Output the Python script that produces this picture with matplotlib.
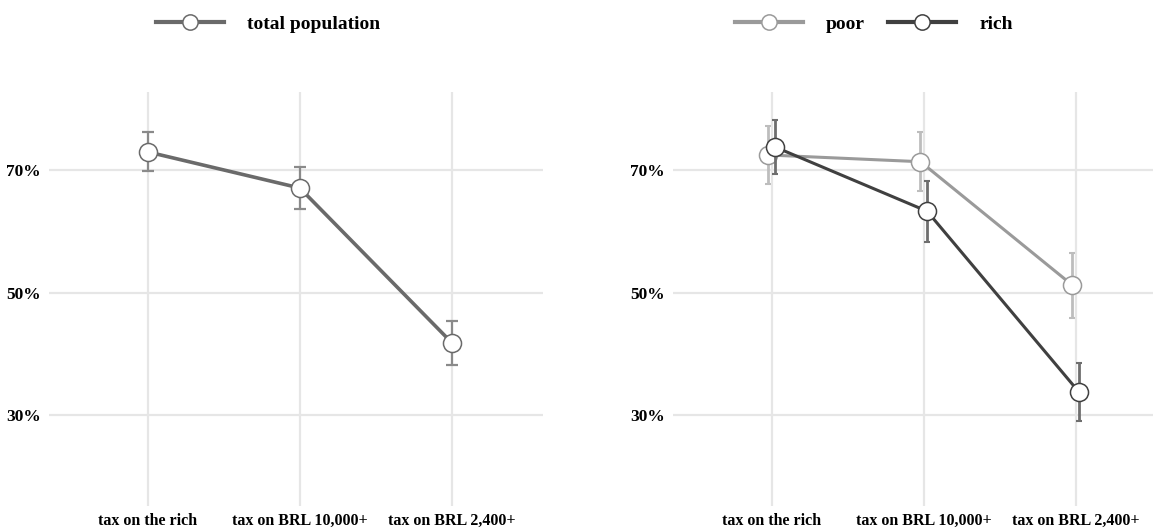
import numpy as np
import matplotlib
matplotlib.use("Agg")
import matplotlib.pyplot as plt
from matplotlib.lines import Line2D

plt.rcParams['font.family'] = ['Liberation Serif', 'DejaVu Serif']
plt.rcParams['font.weight'] = 'bold'

categories = ['tax on the rich', 'tax on BRL 10,000+', 'tax on BRL 2,400+']

# support in %, with half-width of the error bars
total = [73.0, 67.1, 41.8]
total_err = [3.2, 3.4, 3.6]

poor = [72.5, 71.4, 51.2]
poor_err = [4.7, 4.8, 5.3]
rich = [73.8, 63.3, 33.7]
rich_err = [4.4, 5.0, 4.75]

yticks = [30, 50, 70]

W, H = 1153, 531
fig = plt.figure(figsize=(W / 100, H / 100), dpi=100)

grid_c = '#e6e6e6'


def setup(ax):
    ax.set_xlim(-0.65, 2.6)
    ax.set_ylim(15.1, 82.8)
    ax.set_xticks(range(len(categories)))
    ax.set_xticklabels(categories, fontsize=11.5)
    ax.set_yticks(yticks)
    ax.set_yticklabels([f'{t}%' for t in yticks], fontsize=12.5)
    ax.tick_params(length=0, axis='x', pad=5)
    ax.tick_params(length=0, axis='y', pad=6)
    for s in ax.spines.values():
        s.set_visible(False)
    ax.grid(True, color=grid_c, linewidth=1.6)
    ax.set_axisbelow(True)


x = np.arange(len(categories))

# left panel: total population
ax1 = fig.add_axes([49 / W, 1 - 506 / H, 494 / W, 414 / H])
setup(ax1)
ax1.errorbar(x, total, yerr=total_err, fmt='none', ecolor='#8a8a8a',
             elinewidth=1.6, capsize=4.3, capthick=1.6, zorder=2)
ax1.plot(x, total, color='#6a6a6a', lw=2.6, marker='o', ms=13,
         mfc='white', mec='#6a6a6a', mew=1.1, zorder=3)

# right panel: poor vs rich
ax2 = fig.add_axes([673 / W, 1 - 506 / H, 494 / W, 414 / H])
setup(ax2)
d = 0.022
ax2.errorbar(x - d, poor, yerr=poor_err, fmt='none', ecolor='#bdbdbd',
             elinewidth=2, capsize=2.2, capthick=1.5, zorder=2)
ax2.plot(x - d, poor, color='#9a9a9a', lw=2.2, marker='o', ms=13,
         mfc='white', mec='#9a9a9a', mew=1.1, zorder=3)
ax2.errorbar(x + d, rich, yerr=rich_err, fmt='none', ecolor='#6e6e6e',
             elinewidth=2, capsize=2.2, capthick=1.5, zorder=4)
ax2.plot(x + d, rich, color='#404040', lw=2.2, marker='o', ms=13,
         mfc='white', mec='#404040', mew=1.1, zorder=5)

# legends
def handle(c):
    return Line2D([], [], color=c, lw=3, marker='o', ms=11, mfc='white', mec=c, mew=1.1)

fig.legend([handle('#6a6a6a')], ['total population'], loc='center',
           bbox_to_anchor=(268 / W, 1 - 24 / H), frameon=False, fontsize=14,
           handlelength=3.5, handletextpad=1.2)
fig.legend([handle('#9a9a9a'), handle('#404040')], ['poor', 'rich'], loc='center',
           bbox_to_anchor=(874 / W, 1 - 24 / H), frameon=False, fontsize=14,
           ncol=2, handlelength=3.5, handletextpad=1.2, columnspacing=1.2)

fig.savefig('out.png', dpi=100)
